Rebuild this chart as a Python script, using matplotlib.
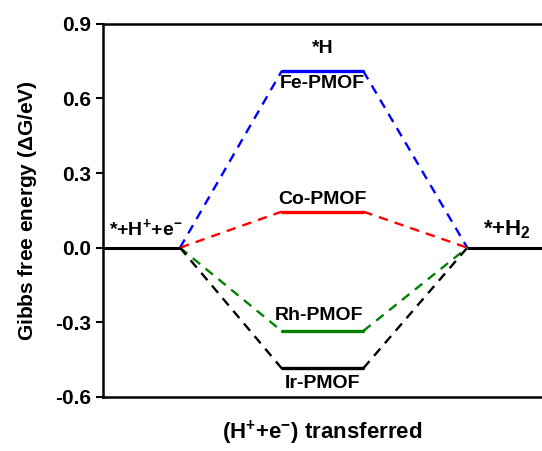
import matplotlib
matplotlib.use("Agg")
import matplotlib.pyplot as plt

plt.rcParams['font.family'] = ['Liberation Sans', 'DejaVu Sans']
plt.rcParams['font.weight'] = 'bold'
plt.rcParams['axes.labelweight'] = 'bold'
plt.rcParams['mathtext.fontset'] = 'custom'
plt.rcParams['mathtext.rm'] = 'Liberation Sans:bold'
plt.rcParams['mathtext.bf'] = 'Liberation Sans:bold'
plt.rcParams['mathtext.default'] = 'bf'

# === Data ===
catalysts = ["Fe-PMOF", "Co-PMOF", "Rh-PMOF", "Ir-PMOF"]
dG_H = [0.71, 0.145, -0.335, -0.485]      # *H intermediate energy (eV)
colors = ["#0000ff", "#ff0000", "#008000", "#000000"]
start_energy = 0.0
end_energy = 0.0

# === Layout (x positions of the steps) ===
x_start = (0.0, 1.0)
x_mid = (2.32, 3.38)
x_end = (4.73, 5.7)

fig = plt.figure(figsize=(5.42, 4.51), dpi=100)
ax = fig.add_axes([0.19, 0.12, 0.81, 0.827])

ax.plot(x_start, [start_energy] * 2, color="black", lw=2.2, solid_capstyle="butt")
ax.plot(x_end, [end_energy] * 2, color="black", lw=2.2, solid_capstyle="butt")

for name, e, c in zip(catalysts, dG_H, colors):
    ax.plot(x_mid, [e, e], color=c, lw=2.4, solid_capstyle="round")
    ax.plot([x_start[1], x_mid[0]], [start_energy, e], color=c, lw=1.7, ls=(0, (4, 3)))
    ax.plot([x_mid[1], x_end[0]], [e, end_energy], color=c, lw=1.7, ls=(0, (4, 3)))

# labels for the catalysts
xc = sum(x_mid) / 2
ax.text(xc, dG_H[0] - 0.015, catalysts[0], ha="center", va="top", fontsize=14)
ax.text(xc, dG_H[1] + 0.015, catalysts[1], ha="center", va="bottom", fontsize=14)
ax.text(xc - 0.05, dG_H[2] + 0.03, catalysts[2], ha="center", va="bottom", fontsize=14)
ax.text(xc, dG_H[3] - 0.025, catalysts[3], ha="center", va="top", fontsize=14)
ax.text(xc, 0.80, "*H", ha="center", va="center", fontsize=14)
ax.text(0.55, 0.035, r"*+H$^{+}$+e$^{-}$", ha="center", va="bottom", fontsize=14)
ax.text(5.24, 0.025, r"*+H$_{2}$", ha="center", va="bottom", fontsize=16)

ax.set_xlim(0, 5.7)
ax.set_ylim(-0.6, 0.9)
ax.set_yticks([-0.6, -0.3, 0.0, 0.3, 0.6, 0.9])
ax.set_yticklabels(["-0.6", "-0.3", "0.0", "0.3", "0.6", "0.9"])
ax.set_xticks([])
ax.tick_params(axis="y", direction="out", length=5, width=1.5, labelsize=15)
for s in ["left", "top", "bottom"]:
    ax.spines[s].set_linewidth(1.8)
ax.spines["right"].set_visible(False)

ax.set_ylabel(r"Gibbs free energy ($\Delta$G/eV)", fontsize=15, labelpad=12)
ax.set_xlabel(r"(H$^{+}$+e$^{-}$) transferred", fontsize=16, labelpad=16)

fig.savefig("out.png", dpi=100)
